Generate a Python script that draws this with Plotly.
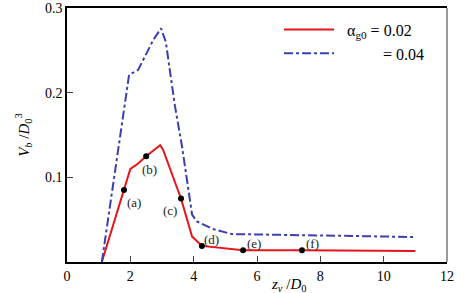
import plotly.graph_objects as go

# alpha_g0 = 0.02 (red, solid)
x_red = [1.1, 1.8, 2.0, 2.2, 2.5, 2.94, 3.03, 3.6, 3.95, 4.26, 5.2, 5.56, 7.42, 11.0]
y_red = [0.0, 0.085, 0.11, 0.115, 0.125, 0.138, 0.133, 0.075, 0.03, 0.019, 0.015, 0.014, 0.014, 0.013]

# alpha_g0 = 0.04 (blue, dash-dot)
x_blue = [1.1, 1.62, 1.96, 2.25, 2.72, 2.97, 3.12, 3.41, 3.63, 3.95, 4.1, 4.6, 5.2, 11.0]
y_blue = [0.0, 0.133, 0.221, 0.227, 0.262, 0.276, 0.26, 0.184, 0.137, 0.056, 0.048, 0.039, 0.033, 0.0295]

# marked states on the red curve
pt_labels = ["(a)", "(b)", "(c)", "(d)", "(e)", "(f)"]
pt_x = [1.8, 2.5, 3.6, 4.26, 5.56, 7.42]
pt_y = [0.085, 0.125, 0.075, 0.019, 0.014, 0.014]
pt_dx = [10, 3, -11, 10, 11, 11]
pt_dy = [12, 13, 12, -6, -7, -7]

x_ticks = [0, 2, 4, 6, 8, 10, 12]
y_ticks = [0.1, 0.2, 0.3]

FONT = "'Liberation Serif', 'Times New Roman', serif"

fig = go.Figure()
fig.add_trace(go.Scatter(x=x_red, y=y_red, mode="lines",
                         line=dict(color="#e8141c", width=2),
                         name="&nbsp;&nbsp;α<sub>g0</sub> = 0.02"))
fig.add_trace(go.Scatter(x=x_blue, y=y_blue, mode="lines",
                         line=dict(color="#3b3fae", width=2, dash="dashdot"),
                         name="&nbsp;&nbsp;&nbsp;&nbsp;&nbsp;&nbsp;&nbsp;&nbsp;&nbsp;&nbsp; = 0.04"))
fig.add_trace(go.Scatter(x=pt_x, y=pt_y, mode="markers",
                         marker=dict(color="black", size=6),
                         showlegend=False))

for lab, x, y, dx, dy in zip(pt_labels, pt_x, pt_y, pt_dx, pt_dy):
    fig.add_annotation(x=x, y=y, text=lab, showarrow=False, xshift=dx, yshift=-dy,
                       font=dict(family=FONT, size=13, color="#222"))

fig.add_annotation(x=7.0, y=0, xref="x", yref="paper", yanchor="top", yshift=-12,
                   showarrow=False,
                   text="<i>z<sub>v</sub></i> /<i>D</i><sub>0</sub>",
                   font=dict(family=FONT, size=15, color="black"))

# grey right border
fig.add_shape(type="line", xref="paper", yref="paper", x0=1, x1=1, y0=0, y1=1,
              line=dict(color="#777", width=1.5))

fig.update_layout(
    width=464, height=293,
    margin=dict(l=67, r=17, t=8, b=31),
    paper_bgcolor="white", plot_bgcolor="white",
    font=dict(family=FONT, size=13, color="black"),
    legend=dict(x=0.558, y=0.982, xanchor="left", yanchor="top",
                bgcolor="rgba(0,0,0,0)", font=dict(size=16), itemwidth=50,
                tracegroupgap=0),
    xaxis=dict(range=[0, 12], tickvals=x_ticks, ticks="inside", ticklen=6,
               showgrid=False, zeroline=False, showline=True, linecolor="black",
               linewidth=1.5, mirror=True, tickfont=dict(size=14), automargin=False),
    yaxis=dict(range=[0, 0.3], tickvals=y_ticks, ticktext=["0.1", "0.2", "0.3"],
               ticks="inside", ticklen=6, showgrid=False, zeroline=False,
               showline=True, linecolor="black", linewidth=1.5,
               tickfont=dict(size=14), automargin=False,
               title=dict(text="<i>V<sub>b</sub></i> /<i>D</i><sub>0</sub><sup>3</sup>",
                          font=dict(size=15), standoff=12)),
)

fig.write_html("out.html", config={"displayModeBar": False},
               post_script="document.body.style.margin='0';document.body.style.overflow='hidden';")
